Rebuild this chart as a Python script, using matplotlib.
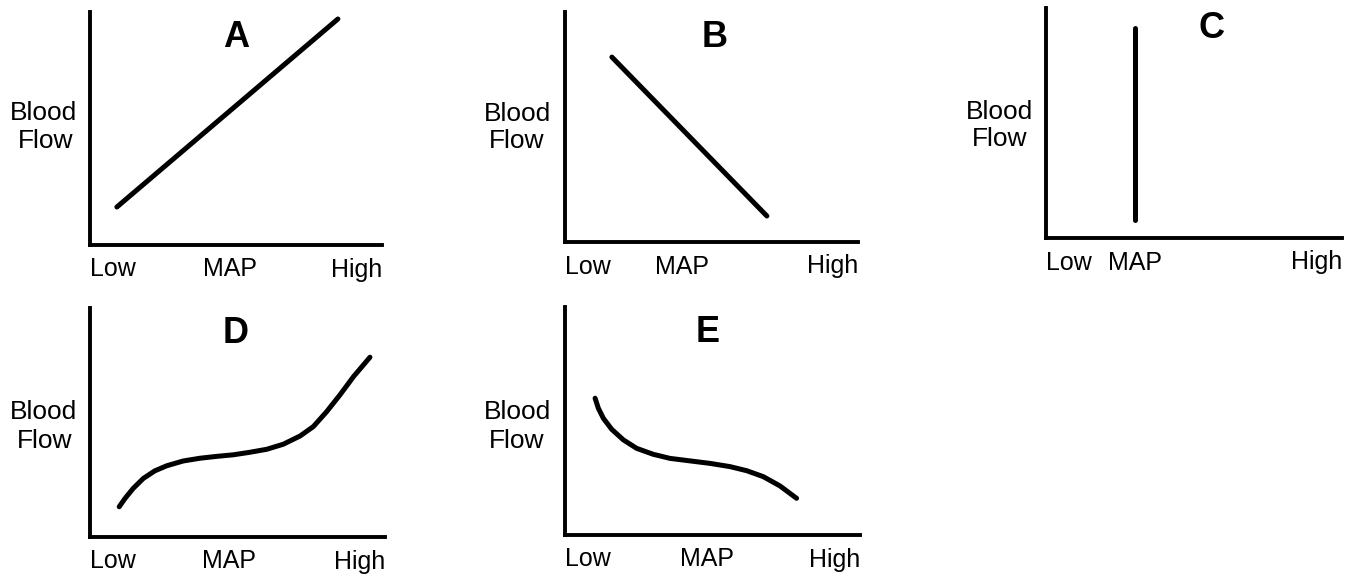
import matplotlib
matplotlib.use("Agg")
import matplotlib.pyplot as plt

plt.rcParams['font.family'] = ['Liberation Sans', 'DejaVu Sans']

W, H = 1352, 575

# curve data, x and y as fraction of axis length (Low..High)
a_x = [0.092, 0.849]
a_y = [0.163, 0.970]
b_x = [0.160, 0.689]
b_y = [0.804, 0.113]
c_x = [0.300, 0.300]
c_y = [0.078, 0.913]
d_x = [0.099, 0.119, 0.147, 0.181, 0.220, 0.260, 0.316, 0.373, 0.429, 0.486,
       0.542, 0.599, 0.655, 0.712, 0.757, 0.802, 0.847, 0.893, 0.949]
d_y = [0.132, 0.169, 0.213, 0.256, 0.289, 0.311, 0.332, 0.344, 0.352, 0.359,
       0.370, 0.383, 0.405, 0.441, 0.482, 0.547, 0.620, 0.700, 0.785]
e_x = [0.102, 0.113, 0.130, 0.158, 0.198, 0.243, 0.299, 0.356, 0.424, 0.492,
       0.559, 0.616, 0.672, 0.729, 0.785]
e_y = [0.600, 0.556, 0.512, 0.464, 0.417, 0.380, 0.354, 0.336, 0.325, 0.314,
       0.300, 0.282, 0.256, 0.215, 0.161]

letters = ['A', 'B', 'C', 'D', 'E']
tick_labels = ['Low', 'MAP', 'High']
map_pos = [0.479, 0.400, 0.300, 0.470, 0.480]

# layout in pixels: left, right, top, bottom of each axis box
boxes = [(90, 382, 12, 245),
         (565, 858, 12, 242),
         (1046, 1342, 8, 238),
         (90, 385, 308, 537),
         (565, 860, 307, 535)]
# panel letter centre x and baseline y (pixels)
letter_pos = [(236, 47), (715, 47), (1211, 38), (236, 343), (708, 342)]
# "Blood" / "Flow" centre x and baseline y (pixels)
ylab_pos = [((44, 120), (46, 148)),
            ((518, 121), (517, 148)),
            ((1000, 119), (1000, 146)),
            ((43, 419), (45, 448)),
            ((518, 419), (517, 448))]

curves = [(a_x, a_y), (b_x, b_y), (c_x, c_y), (d_x, d_y), (e_x, e_y)]

fig = plt.figure(figsize=(W / 100, H / 100), dpi=100)

for i in range(5):
    l, r, t, b = boxes[i]
    ax = fig.add_axes([l / W, 1 - b / H, (r - l) / W, (b - t) / H])
    ax.set_xlim(0, 1)
    ax.set_ylim(0, 1)
    for s in ['top', 'right']:
        ax.spines[s].set_visible(False)
    for s in ['left', 'bottom']:
        ax.spines[s].set_linewidth(2.8)
        ax.spines[s].set_color('black')
    ax.set_yticks([])
    ax.set_xticks([0, map_pos[i], 1])
    ax.set_xticklabels(tick_labels, fontsize=18)
    lbls = ax.get_xticklabels()
    lbls[0].set_ha('left')
    lbls[2].set_ha('right')
    ax.tick_params(axis='x', length=0, pad=9)

    x, y = curves[i]
    ax.plot(x, y, color='black', lw=3.6, solid_capstyle='round',
            solid_joinstyle='round', clip_on=False)

    lx, ly = letter_pos[i]
    fig.text(lx / W, 1 - ly / H, letters[i], fontsize=26, fontweight='bold',
             ha='center', va='baseline')
    for word, (wx, wy) in zip(['Blood', 'Flow'], ylab_pos[i]):
        fig.text(wx / W, 1 - wy / H, word, fontsize=19, ha='center', va='baseline')

fig.savefig('out.png', dpi=100)
